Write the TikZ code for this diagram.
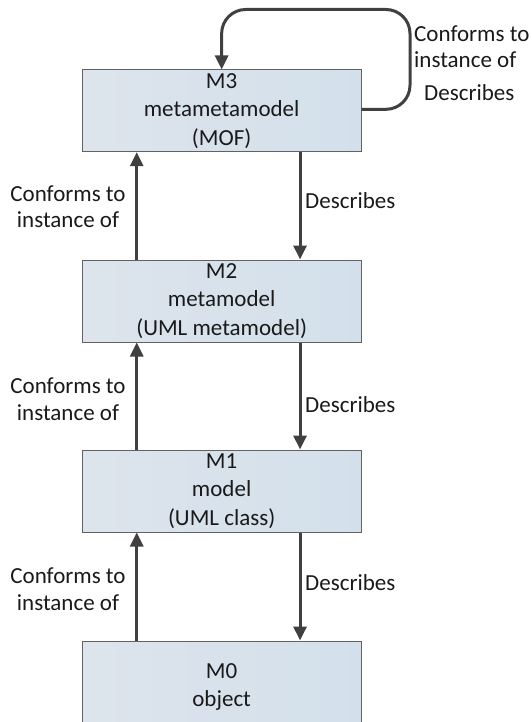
\documentclass[tikz,border=0pt]{standalone}
\usepackage{fontspec}
\setmainfont{Carlito}
\usetikzlibrary{arrows.meta}
\definecolor{boxleft}{HTML}{DDE4EC}
\definecolor{boxright}{HTML}{D3E0EB}
\definecolor{boxline}{HTML}{626262}
\definecolor{arrowc}{HTML}{404040}
\definecolor{txt}{HTML}{1A1A1A}
\begin{document}
\begin{tikzpicture}[x=1pt,y=-1pt,
  level/.style={draw=boxline, line width=1pt, left color=boxleft, right color=boxright,
    minimum width=278.7pt, inner sep=0pt, align=center, text=txt,
    font=\fontsize{23}{28.3}\selectfont},
  lbl/.style={inner sep=0pt, align=center, text=txt, font=\fontsize{23}{26.5}\selectfont},
  conn/.style={draw=arrowc, line width=3pt, -{Triangle[length=14pt,width=13pt]}}]
\useasboundingbox (0,0) rectangle (532,722);
\clip (0,0) rectangle (532,722);

% the four modelling levels
\node[level, minimum height=81.7pt] (m3) at (221.65,110.85) {M3\\metametamodel\\(MOF)};
\node[level, minimum height=82pt] (m2) at (221.65,301) {M2\\metamodel\\(UML metamodel)};
\node[level, minimum height=82pt] (m1) at (221.65,491) {M1\\model\\(UML class)};
\node[level, minimum height=92pt] (m0) at (221.65,687) {M0\\object};

% conformance (up) and description (down) links between levels
\foreach \lo/\hi in {m2/m3, m1/m2, m0/m1}{
  \draw[conn] ([xshift=-84.9pt]\lo.north) -- ([xshift=-84.9pt]\hi.south);
  \draw[conn] ([xshift=78.4pt]\hi.south) -- ([xshift=78.4pt]\lo.north);
}

% self loop on M3
\coordinate (loopA) at (410,109.3);
\coordinate (loopB) at (410,9.5);
\coordinate (loopC) at (221.65,9.5);
\draw[conn, rounded corners=24pt] (m3.east |- loopA) -- (loopA) -- (loopB) -- (loopC) -- (m3.north);

% labels
\node[lbl, align=left, anchor=west] (selfc) at (414,46.5) {Conforms to\\instance of};
\node[lbl, anchor=west] (selfd) at (424,93) {Describes};

\node[lbl] (c32) at (68,206.5) {Conforms to\\instance of};
\node[lbl, anchor=west] (d32) at (305,201) {Describes};
\node[lbl] (c21) at (68,399) {Conforms to\\instance of};
\node[lbl, anchor=west] (d21) at (305,405) {Describes};
\node[lbl] (c10) at (68,589) {Conforms to\\instance of};
\node[lbl, anchor=west] (d10) at (305,583) {Describes};
\end{tikzpicture}
\end{document}
